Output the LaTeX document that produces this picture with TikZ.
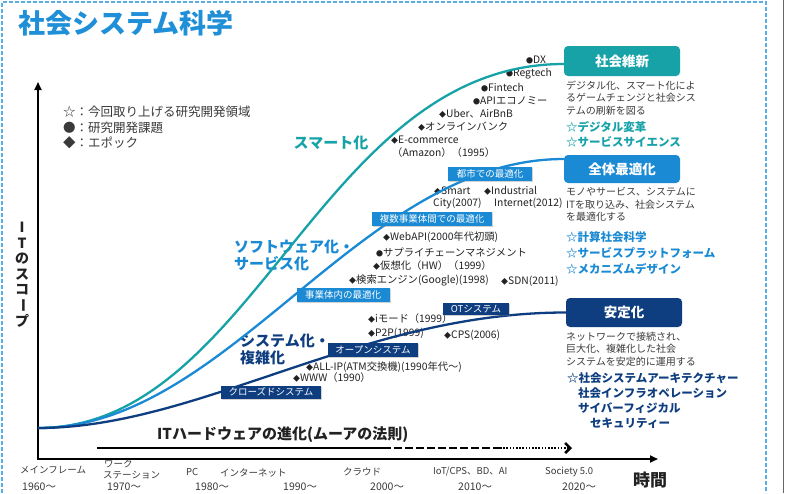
\documentclass[tikz,border=0pt]{standalone}
\usepackage{fontspec}
\usepackage{graphicx}
\setmainfont{Noto Sans CJK JP}
\usetikzlibrary{arrows.meta,shadows}
\definecolor{tealc}{HTML}{17A2A8}
\definecolor{bluec}{HTML}{1A8AD4}
\definecolor{navyc}{HTML}{0F3E80}
\definecolor{titlec}{HTML}{1F8FD8}
\definecolor{dashc}{HTML}{5AAEE6}
\definecolor{txtc}{HTML}{222222}
\definecolor{descc}{HTML}{3A3A3A}
\newcommand{\myfs}[2]{\fontsize{#1}{#2}\selectfont}
\newcommand{\dia}{{\myfs{7}{7}◆}}
\newcommand{\bul}{{\myfs{7}{7}●}}
\tikzset{
  item/.style={anchor=west, inner sep=0pt, font=\myfs{10.3}{12}, text=txtc},
  tag/.style={inner sep=0pt, minimum height=13pt, font=\myfs{9.5}{11}, text=white,
    drop shadow={shadow xshift=1.2pt, shadow yshift=-1.2pt, opacity=0.35}},
  bigbox/.style={rounded corners=4pt, minimum width=116pt, inner sep=0pt, font=\myfs{13.5}{15}\bfseries, text=white},
  desc/.style={anchor=north west, align=left, inner sep=0pt, font=\myfs{10}{12.5}, text=descc},
  starlist/.style={anchor=west, align=left, inner sep=0pt, font=\myfs{11.5}{15}\bfseries},
  curvelbl/.style={anchor=west, align=left, inner sep=0pt, font=\myfs{15}{17}\bfseries},
  axislbl/.style={anchor=west, inner sep=0pt, font=\myfs{9.5}{11.5}, text=descc},
  yearlbl/.style={anchor=west, inner sep=0pt, font=\myfs{10.5}{12}, text=descc},
  legend/.style={anchor=west, inner sep=0pt, font=\myfs{12.5}{14}, text=descc},
  ych/.style={inner sep=0pt, font=\myfs{14}{15}\bfseries, text=txtc},
  curve/.style={line width=2.3pt},
}
\begin{document}
\begin{tikzpicture}[x=1pt,y=-1pt]
\useasboundingbox (0,0) rectangle (795,493);
\clip (0,0) rectangle (795,493);
\fill[white] (0,0) rectangle (795,493);

% frame
\coordinate (f1) at (2,493); \coordinate (f2) at (2,2);
\coordinate (f3) at (766,2); \coordinate (f4) at (766,493);
\draw[dashc, line width=1.2pt, dash pattern=on 4pt off 2pt] (f1) -- (f2) -- (f3) -- (f4);
\coordinate (g1) at (783,0); \coordinate (g2) at (783,493);
\draw[black!60, line width=0.9pt] (g1) -- (g2);

% title
\node[anchor=west, inner sep=0pt, font=\myfs{27}{30}\bfseries, text=titlec] (title) at (18,23) {社会システム科学};

% legend
\node[legend] (lg1) at (63,112) {☆：今回取り上げる研究開発領域};
\node[legend] (lg2) at (63,128) {●：研究開発課題};
\node[legend] (lg3) at (63,143) {◆：エポック};

% axes
\coordinate (O) at (38,428);
\coordinate (ax0) at (38,459);
\coordinate (axY) at (38,82);
\coordinate (axX) at (658,459);
\draw[line width=1.8pt, {Triangle[length=8pt,width=7pt]}-{Triangle[length=8pt,width=7pt]}] (axY) -- (ax0) -- (axX);

% y label (vertical writing)
\node[ych] (yc1) at (22,227) {I};
\node[ych] (yc2) at (22,243) {T};
\node[ych] (yc3) at (22,259) {の};
\node[ych] (yc4) at (22,275) {ス};
\node[ych] (yc5) at (22,290) {コ};
\node[ych, rotate=-90] (yc6) at (22,305) {ー};
\node[ych] (yc7) at (22,321) {プ};

% hardware arrow
\node[anchor=west, inner sep=0pt, font=\myfs{15}{17}\bfseries, text=txtc] (hw) at (157,435) {ITハードウェアの進化(ムーアの法則)};
\coordinate (h1) at (97,448); \coordinate (h2) at (383,448);
\coordinate (h3) at (500,448); \coordinate (h4) at (572,448);
\draw[line width=2.6pt] (h1) -- (h2);
\draw[line width=2.6pt, dash pattern=on 8pt off 3pt] (h2) -- (h3);
\draw[line width=2.6pt, dash pattern=on 1.6pt off 1.6pt, -{Straight Barb[length=5pt,width=10pt]}] (h3) -- (h4);

% time labels
\node[axislbl] (t1) at (20,470) {メインフレーム};
\node[axislbl] (t2a) at (104,463.5) {ワーク};
\node[axislbl] (t2b) at (103,475.5) {ステーション};
\node[axislbl] (t3) at (186,472) {PC};
\node[axislbl] (t4) at (220,473) {インターネット};
\node[axislbl] (t5) at (343,472) {クラウド};
\node[axislbl] (t6) at (433,472) {IoT/CPS、BD、AI};
\node[axislbl] (t7) at (545,472) {Society 5.0};
\node[yearlbl] (y1) at (22,487) {1960〜};
\node[yearlbl] (y2) at (107,487) {1970〜};
\node[yearlbl] (y3) at (195,487) {1980〜};
\node[yearlbl] (y4) at (283,487) {1990〜};
\node[yearlbl] (y5) at (370,487) {2000〜};
\node[yearlbl] (y6) at (458,487) {2010〜};
\node[yearlbl] (y7) at (562,487) {2020〜};
\node[inner sep=0pt, font=\myfs{17}{19}\bfseries, text=txtc] (time) at (650,480) {時間};

% items (teal)
\node[item] (i1) at (526,60) {\bul DX};
\node[item] (i2) at (506,74) {\bul Regtech};
\node[item] (i3) at (481,88) {\bul Fintech};
\node[item] (i4) at (473,101) {\bul APIエコノミー};
\node[item] (i5) at (439,114) {\dia Uber、AirBnB};
\node[item] (i6) at (418,127) {\dia オンラインバンク};
\node[item] (i7) at (391,140) {\dia E-commerce};
\node[item] (i7b) at (392,153) {（Amazon）（1995）};
% items (blue)
\node[item] (j1) at (434,191) {\dia Smart};
\node[item] (j1b) at (433,203) {City(2007)};
\node[item] (j2) at (484,191) {\dia Industrial};
\node[item] (j2b) at (494,203) {Internet(2012)};
\node[item] (j3) at (383,237) {\dia WebAPI(2000年代初頭)};
\node[item] (j4) at (376,252) {\bul サプライチェーンマネジメント};
\node[item] (j5) at (373,266) {\dia 仮想化（HW）（1999）};
\node[item] (j6) at (349,280) {\dia 検索エンジン(Google)(1998)};
\node[item] (j7) at (501,281) {\dia SDN(2011)};
% items (navy)
\node[item] (k1) at (368,319) {\dia iモード（1999）};
\node[item] (k2) at (368,333) {\dia P2P(1999)};
\node[item] (k3) at (444,335) {\dia CPS(2006)};
\node[item] (k4) at (306,367) {\dia ALL-IP(ATM交換機)(1990年代〜)};
\node[item] (k5) at (293,378) {\dia WWW（1990）};

% curve labels
\node[inner sep=0pt, font=\myfs{15}{17}\bfseries, text=tealc] (lsm) at (331,143) {スマート化};
\node[curvelbl, text=bluec] (lsw) at (234,255) {ソフトウェア化・\\サービス化};
\node[curvelbl, text=navyc] (lsy) at (240,349) {システム化・\\複雑化};

% right boxes
\node[bigbox, fill=tealc, minimum height=30pt] (sk) at (622,61) {社会維新};
\node[bigbox, fill=bluec, minimum height=28pt] (zt) at (622,169) {全体最適化};
\node[bigbox, fill=navyc, minimum height=29pt] (an) at (624,312.5) {安定化};

% descriptions
\node[desc] (d1) at (566,80.5) {デジタル化、スマート化によ\\るゲームチェンジと社会シス\\テムの刷新を図る};
\node[starlist, text=tealc] (s1) at (566,134) {☆デジタル変革\\☆サービスサイエンス};
\node[desc] (d2) at (566,187.5) {モノやサービス、システムに\\ITを取り込み、社会システム\\を最適化する};
\node[starlist, text=bluec, font=\myfs{11.5}{16}\bfseries] (s2) at (566,253) {☆計算社会科学\\☆サービスプラットフォーム\\☆メカニズムデザイン};
\node[desc] (d3) at (566,331.5) {ネットワークで接続され、\\巨大化、複雑化した社会\\システムを安定的に運用する};
\node[starlist, text=navyc] (s3) at (567,400.5) {☆社会システムアーキテクチャー\\\hspace*{11pt}社会インフラオペレーション\\\hspace*{11pt}サイバーフィジカル\\\hspace*{23pt}セキュリティー};

% curves
\draw[curve, tealc] (O) .. controls (255,428) and (320,64) .. ([yshift=-3pt]sk.west);
\draw[curve, bluec] (O) .. controls (230,428) and (360,159) .. ([yshift=10pt]zt.west);
\draw[curve, navyc] (O) .. controls (200,428) and (360,312.5) .. (an.west);

% tags
\node[tag, fill=navyc, minimum width=100pt] (c1) at (271,392) {クローズドシステム};
\node[tag, fill=navyc, minimum width=90pt, minimum height=14pt] (c2) at (373,350) {オープンシステム};
\node[tag, fill=navyc, minimum width=66pt, minimum height=12pt] (c3) at (476,309) {OTシステム};
\node[tag, fill=bluec, minimum width=93pt, minimum height=14pt] (b1) at (343,295) {事業体内の最適化};
\node[tag, fill=bluec, minimum width=120pt, minimum height=14pt] (b2) at (432,219) {複数事業体間での最適化};
\node[tag, fill=bluec, minimum width=84pt, minimum height=14pt] (b3) at (490,174) {都市での最適化};
\end{tikzpicture}
\end{document}
